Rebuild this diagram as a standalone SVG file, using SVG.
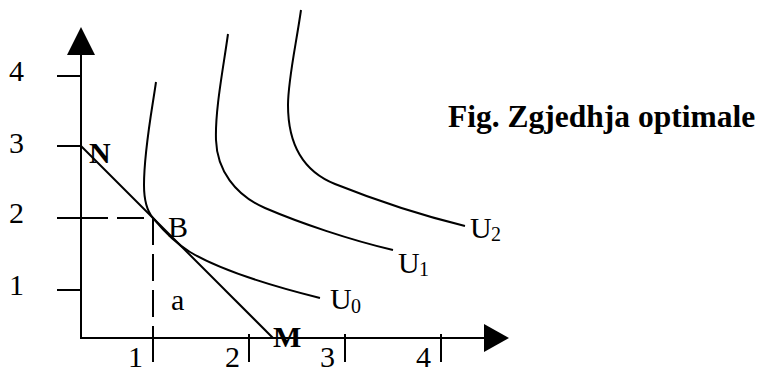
<svg xmlns="http://www.w3.org/2000/svg" width="762" height="372" viewBox="0 0 762 372">
<style>
.ln{stroke:#000;stroke-width:2;fill:none}
.dash{stroke:#000;stroke-width:2;fill:none;stroke-dasharray:27 9}
.t{font-family:"Liberation Serif","Times New Roman",serif;font-size:30px;fill:#000}
.b{font-weight:bold}
.s{font-size:20px}
</style>
<rect width="762" height="372" fill="#fff"/>
<g id="axes">
<line class="ln" x1="81" y1="52" x2="81" y2="339"/>
<polygon points="81,27 67,55 95,55" fill="#000"/>
<line class="ln" x1="80" y1="338" x2="486" y2="338"/>
<polygon points="509,338 484,324 484,352" fill="#000"/>
<g id="yticks">
<line class="ln" x1="57" y1="76" x2="81" y2="76"/>
<line class="ln" x1="57" y1="146" x2="81" y2="146"/>
<line class="ln" x1="57" y1="218" x2="81" y2="218"/>
<line class="ln" x1="57" y1="290" x2="81" y2="290"/>
</g>
<g id="xticks">
<line class="ln" x1="153" y1="334" x2="153" y2="362"/>
<line class="ln" x1="249" y1="334" x2="249" y2="362"/>
<line class="ln" x1="345" y1="334" x2="345" y2="362"/>
<line class="ln" x1="441" y1="334" x2="441" y2="362"/>
</g>
<g class="t">
<text x="9" y="81">4</text>
<text x="9" y="153">3</text>
<text x="9" y="223">2</text>
<text x="9" y="295">1</text>
<text x="128" y="367">1</text>
<text x="225" y="367">2</text>
<text x="320" y="367">3</text>
<text x="416" y="367">4</text>
</g>
</g>
<g id="connectors">
<line id="budget" class="ln" x1="81" y1="146" x2="273" y2="338"/>
<line class="dash" x1="81" y1="218" x2="153" y2="218"/>
<line class="dash" x1="153" y1="218" x2="153" y2="338"/>
</g>
<g id="U0">
<path class="ln" d="M156,82 C152,110 144,150 144,185 C144,200 147,211 153,218 C163,230 175,243 190,252 C215,267 260,283 320,298"/>
<text class="t" x="330" y="309">U</text><text class="t s" x="351" y="313">0</text>
</g>
<g id="U1">
<path class="ln" d="M228,34 C223,70 215,110 216,140 C217,170 235,195 265,208 C300,223 350,240 393,250"/>
<text class="t" x="398" y="273">U</text><text class="t s" x="419" y="276">1</text>
</g>
<g id="U2">
<path class="ln" d="M301,10 C296,45 288,80 288,105 C288,140 300,170 335,184 C370,198 420,215 465,226"/>
<text class="t" x="470" y="238">U</text><text class="t s" x="491" y="241">2</text>
</g>
<g id="N"><text class="t b" x="89" y="163">N</text></g>
<g id="M"><text class="t b" x="273" y="347">M</text></g>
<g id="B"><text class="t" x="168" y="237">B</text></g>
<g id="a"><text class="t" x="171" y="310">a</text></g>
<g id="title"><text class="t b" x="448" y="127" style="font-size:31.5px">Fig. Zgjedhja optimale</text></g>
</svg>
